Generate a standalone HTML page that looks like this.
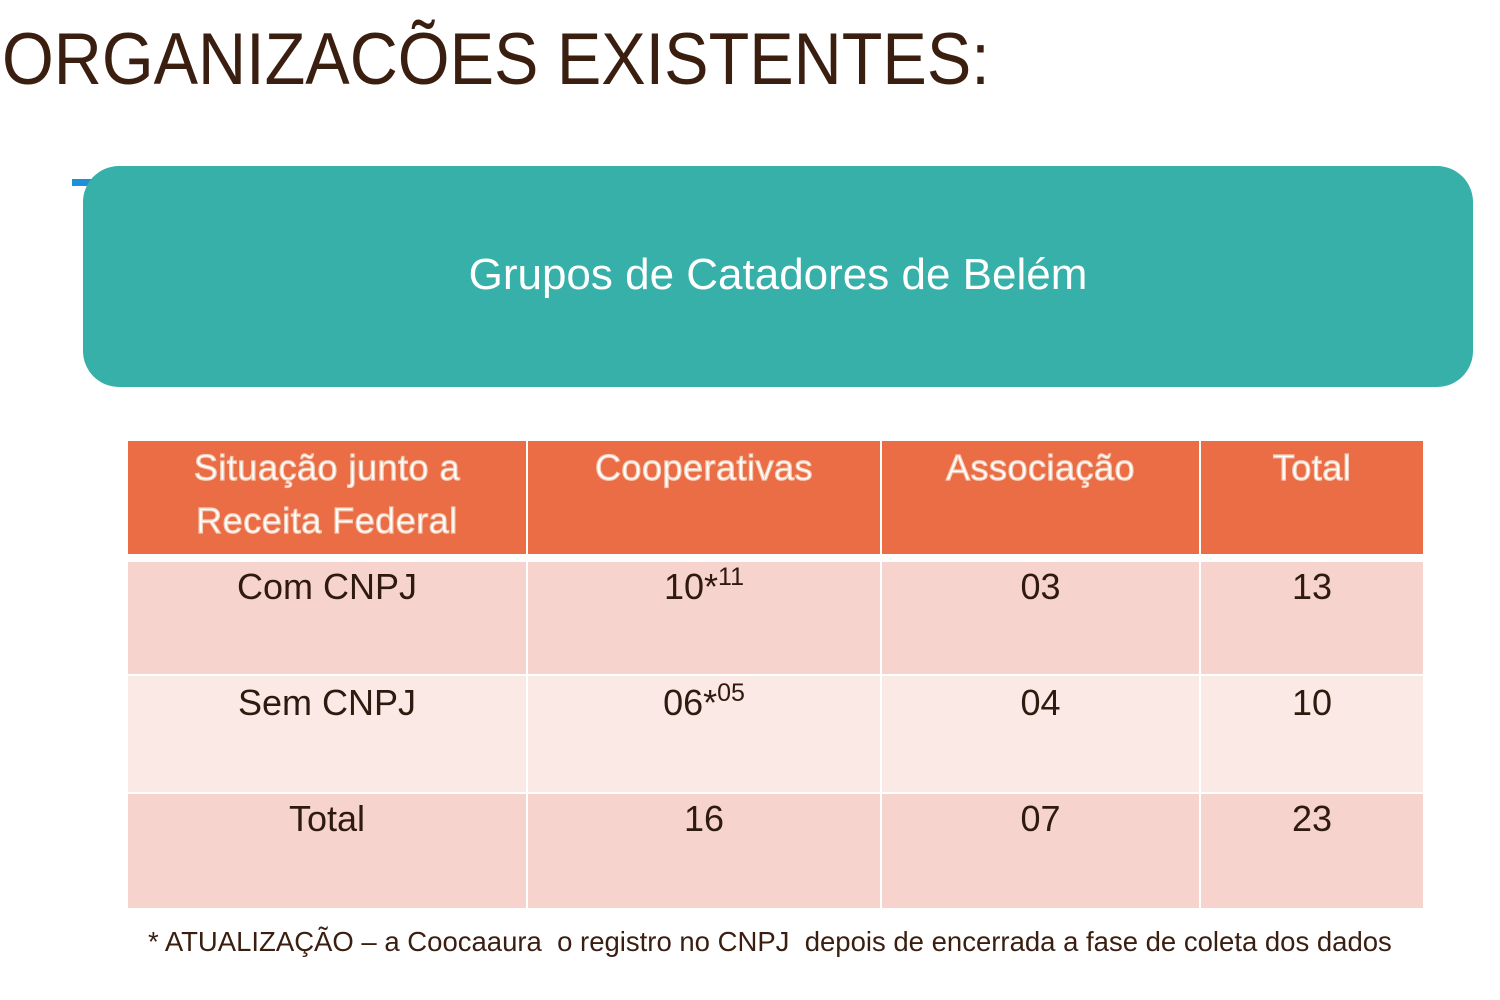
<!DOCTYPE html>
<html><head><meta charset="utf-8"><style>
body{margin:0;width:1500px;height:1000px;background:#fff;position:relative;overflow:hidden;font-family:"Liberation Sans",sans-serif}
.t{position:absolute;left:2px;top:18px;font-size:73px;color:#3a1e10;white-space:nowrap;transform:scaleX(0.912);transform-origin:0 0}
.mark{position:absolute;left:72px;top:179px;width:20px;height:7px;background:#1e90d8}
.box{position:absolute;left:83px;top:166px;width:1390px;height:221px;background:#36b0a8;border-radius:36px;color:#fff;font-size:44px;text-align:center;line-height:218px}
.c{position:absolute;text-align:center;font-size:36px;color:#2f1a10;box-sizing:border-box;padding-top:4px}
.h{background:#eb6d45;color:#fff;-webkit-text-stroke:1.2px #f3cdb8;line-height:53px;padding-top:0;letter-spacing:0.5px}
.r1{background:#f6d3cd}.r2{background:#fbe9e6}.r3{background:#f6d3cd}
.f{position:absolute;left:148px;top:926px;font-size:27.5px;color:#3a1e10;white-space:nowrap}
sup{font-size:25px;vertical-align:14px;line-height:0}
</style></head><body>
<div class="t">ORGANIZACÕES EXISTENTES:</div>
<div class="mark"></div>
<div class="box">Grupos de Catadores de Belém</div>

<div class="c h" style="left:128px;top:441px;width:398px;height:113px">Situação junto a<br>Receita Federal</div>
<div class="c h" style="left:528px;top:441px;width:352px;height:113px">Cooperativas</div>
<div class="c h" style="left:882px;top:441px;width:317px;height:113px">Associação</div>
<div class="c h" style="left:1201px;top:441px;width:222px;height:113px">Total</div>

<div class="c r1" style="left:128px;top:562px;width:398px;height:112px">Com CNPJ</div>
<div class="c r1" style="left:528px;top:562px;width:352px;height:112px">10*<sup>11</sup></div>
<div class="c r1" style="left:882px;top:562px;width:317px;height:112px">03</div>
<div class="c r1" style="left:1201px;top:562px;width:222px;height:112px">13</div>

<div class="c r2" style="left:128px;top:676px;width:398px;height:116px;padding-top:6px">Sem CNPJ</div>
<div class="c r2" style="left:528px;top:676px;width:352px;height:116px;padding-top:6px">06*<sup>05</sup></div>
<div class="c r2" style="left:882px;top:676px;width:317px;height:116px;padding-top:6px">04</div>
<div class="c r2" style="left:1201px;top:676px;width:222px;height:116px;padding-top:6px">10</div>

<div class="c r3" style="left:128px;top:794px;width:398px;height:114px;padding-top:4px">Total</div>
<div class="c r3" style="left:528px;top:794px;width:352px;height:114px;padding-top:4px">16</div>
<div class="c r3" style="left:882px;top:794px;width:317px;height:114px;padding-top:4px">07</div>
<div class="c r3" style="left:1201px;top:794px;width:222px;height:114px;padding-top:4px">23</div>

<div class="f">* ATUALIZAÇÃO – a Coocaaura&nbsp; o registro no CNPJ&nbsp; depois de encerrada a fase de coleta dos dados</div>
</body></html>
